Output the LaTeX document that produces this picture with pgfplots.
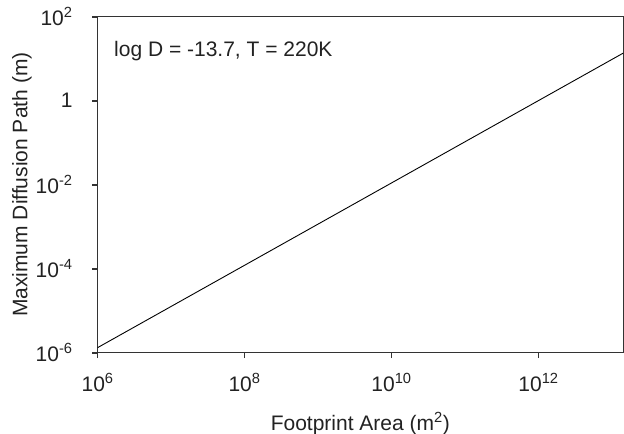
\documentclass[border=0pt]{standalone}
\usepackage{fontspec}
\setmainfont{Liberation Sans}
\usepackage{pgfplots}
\pgfplotsset{compat=1.18}
\definecolor{axgray}{HTML}{333333}
\definecolor{txt}{HTML}{222222}
\begin{document}
\begin{tikzpicture}
\useasboundingbox (-97.6bp,-81.3bp) rectangle (526.4bp,352.7bp);
\begin{axis}[
  scale only axis,
  width=525.4bp, height=336bp,
  xmode=log, ymode=log,
  xmin=1e6, xmax=1.41e13,
  ymin=1e-6, ymax=1e2,
  xtick={1e6,1e8,1e10,1e12},
  xticklabels={10\textsuperscript{6},10\textsuperscript{8},10\textsuperscript{10},10\textsuperscript{12}},
  ytick={1e-6,1e-4,1e-2,1,1e2},
  yticklabels={10\textsuperscript{-6},10\textsuperscript{-4},10\textsuperscript{-2},1,10\textsuperscript{2}},
  xminorticks=false, yminorticks=false,
  xtick pos=left, ytick pos=left,
  tick align=outside,
  major tick length=5.5bp,
  major tick style={axgray, line width=1.6bp},
  axis line style={axgray, line width=1bp},
  tick label style={font=\fontsize{21bp}{25bp}\selectfont, text=txt},
  xticklabel style={yshift=-12bp},
  yticklabel style={xshift=-16bp},
  every axis x label/.style={at={(axis description cs:0.5,0)}, anchor=base, yshift=-77.3bp, font=\fontsize{21bp}{25bp}\selectfont, text=txt},
  every axis y label/.style={at={(axis description cs:-0.1439,0.5)}, rotate=90, anchor=center, font=\fontsize{21bp}{25bp}\selectfont, text=txt},
  xlabel={Footprint Area (m\textsuperscript{2})},
  ylabel={Maximum Diffusion Path (m)},
  clip=true,
]
\addplot[black, line width=0.9bp] coordinates {(1e6,1.32e-6) (1.41e13,13.5)};
\node[anchor=base west, inner sep=0pt, font=\fontsize{21bp}{25bp}\selectfont, text=txt]
  at (rel axis cs:0.0312,0.883) {log D = -13.7, T = 220K};
\end{axis}
\end{tikzpicture}
\end{document}
